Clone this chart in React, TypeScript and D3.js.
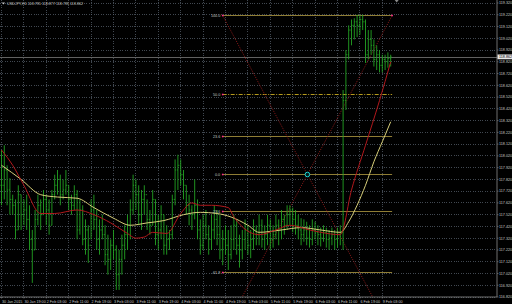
import React from "react";
import * as d3 from "d3";

const W = 512;
const H = 304;

const title = "USDJPY,H1  118.795 118.877 118.795 118.862";
const lastPrice = 118.862;

const priceTicks = [119.32, 119.22, 119.12, 119.02, 118.92, 118.82, 118.72, 118.62, 118.52, 118.42, 118.32, 118.22, 118.12, 118.02, 117.92, 117.82, 117.72, 117.62, 117.52, 117.42, 117.32, 117.22, 117.12, 117.02, 116.92, 116.82];

const timeLabels = ["30 Jan 2015", "30 Jan 19:00", "2 Feb 03:00", "2 Feb 11:00", "2 Feb 19:00", "3 Feb 03:00", "3 Feb 11:00", "3 Feb 19:00", "4 Feb 03:00", "4 Feb 11:00", "4 Feb 19:00", "5 Feb 03:00", "5 Feb 11:00", "5 Feb 19:00", "6 Feb 03:00", "6 Feb 11:00", "6 Feb 19:00", "9 Feb 03:00"];
const timeLabelBars = [0, 8, 16, 24, 32, 40, 48, 56, 64, 72, 80, 88, 96, 104, 112, 120, 128, 136];

const barHigh = [
  118.07, 118.11, 117.94, 117.83, 117.69, 117.65, 117.77, 117.69, 117.65, 117.69,
  117.60, 117.39, 117.56, 117.69, 117.65, 117.73, 117.69, 117.65, 117.73, 117.86,
  117.90, 117.86, 117.82, 117.90, 117.77, 117.69, 117.77, 117.73, 117.65, 117.60,
  117.48, 117.43, 117.65, 117.69, 117.56, 117.48, 117.52, 117.43, 117.35, 117.31,
  117.39, 117.26, 117.22, 117.35, 117.43, 117.52, 117.65, 117.86, 117.82, 117.77,
  117.73, 117.77, 117.65, 117.56, 117.73, 117.65, 117.52, 117.60, 117.52, 117.43,
  117.39, 117.69, 117.99, 118.03, 117.99, 117.90, 117.77, 117.69, 117.60, 117.82,
  117.65, 117.48, 117.52, 117.56, 117.43, 117.52, 117.60, 117.56, 117.52, 117.39,
  117.43, 117.39, 117.43, 117.52, 117.48, 117.35, 117.39, 117.48, 117.43, 117.39,
  117.48, 117.43, 117.52, 117.48, 117.43, 117.52, 117.48, 117.43, 117.52, 117.48,
  117.56, 117.52, 117.60, 117.60, 117.58, 117.56, 117.52, 117.49, 117.48, 117.46,
  117.43, 117.48, 117.46, 117.43, 117.41, 117.43, 117.41, 117.39, 117.41, 117.39,
  117.41, 117.43, 118.58, 118.92, 119.13, 119.18, 119.19, 119.22, 119.22, 119.22,
  119.18, 119.09, 119.09, 119.01, 118.96, 118.92, 118.88, 118.88, 118.90, 118.88,
];
const barLow = [
  117.60, 117.65, 117.60, 117.52, 117.52, 117.31, 117.39, 117.39, 117.43, 117.39,
  117.22, 116.94, 117.22, 117.43, 117.39, 117.52, 117.43, 117.35, 117.43, 117.65,
  117.69, 117.60, 117.65, 117.69, 117.56, 117.52, 117.56, 117.31, 117.35, 117.26,
  117.18, 117.11, 117.31, 117.39, 117.22, 117.18, 117.31, 117.09, 117.01, 117.05,
  117.14, 116.88, 116.88, 117.01, 117.14, 117.22, 117.31, 117.52, 117.56, 117.43,
  117.39, 117.52, 117.39, 117.35, 117.43, 117.26, 117.22, 117.31, 117.18, 117.18,
  117.22, 117.31, 117.60, 117.73, 117.77, 117.65, 117.52, 117.43, 117.39, 117.48,
  117.31, 117.18, 117.22, 117.31, 117.18, 117.22, 117.31, 117.26, 117.14, 117.09,
  117.18, 117.05, 117.14, 117.22, 117.18, 117.07, 117.14, 117.22, 117.18, 117.15,
  117.22, 117.26, 117.26, 117.24, 117.22, 117.26, 117.22, 117.24, 117.31, 117.26,
  117.31, 117.35, 117.39, 117.43, 117.37, 117.35, 117.31, 117.26, 117.29, 117.26,
  117.24, 117.26, 117.31, 117.26, 117.25, 117.29, 117.24, 117.22, 117.26, 117.22,
  117.24, 117.26, 117.22, 118.41, 118.84, 118.96, 119.01, 119.03, 119.05, 119.09,
  118.81, 118.84, 118.88, 118.78, 118.75, 118.73, 118.73, 118.75, 118.77, 118.78,
];
const barClose = [
  117.77, 117.90, 117.73, 117.65, 117.60, 117.39, 117.69, 117.52, 117.56, 117.48,
  117.31, 117.22, 117.48, 117.60, 117.52, 117.65, 117.56, 117.43, 117.69, 117.77,
  117.82, 117.69, 117.73, 117.77, 117.65, 117.60, 117.69, 117.39, 117.56, 117.31,
  117.39, 117.26, 117.56, 117.48, 117.31, 117.39, 117.35, 117.18, 117.14, 117.26,
  117.22, 117.01, 117.14, 117.26, 117.35, 117.43, 117.56, 117.77, 117.69, 117.52,
  117.65, 117.69, 117.48, 117.43, 117.65, 117.35, 117.39, 117.52, 117.26, 117.31,
  117.35, 117.65, 117.90, 117.94, 117.86, 117.77, 117.60, 117.56, 117.52, 117.60,
  117.39, 117.26, 117.43, 117.35, 117.31, 117.39, 117.48, 117.35, 117.22, 117.31,
  117.26, 117.18, 117.31, 117.43, 117.26, 117.22, 117.31, 117.39, 117.26, 117.31,
  117.39, 117.35, 117.43, 117.31, 117.35, 117.43, 117.31, 117.35, 117.43, 117.39,
  117.48, 117.43, 117.52, 117.56, 117.48, 117.43, 117.39, 117.35, 117.39, 117.32,
  117.31, 117.39, 117.37, 117.35, 117.32, 117.37, 117.31, 117.32, 117.35, 117.31,
  117.35, 117.37, 118.49, 118.88, 119.09, 119.13, 119.16, 119.13, 119.18, 119.16,
  118.88, 119.01, 118.96, 118.84, 118.88, 118.79, 118.84, 118.82, 118.85, 118.86,
];

const fastMaBars = [0, 4, 8, 14, 19, 27, 33, 39, 45, 48, 51, 54, 59, 64, 68, 71, 75, 81, 83, 92, 98, 103, 110, 114, 121, 125, 130, 135, 139];
const fastMaValues = [118.07, 117.94, 117.77, 117.53, 117.53, 117.56, 117.52, 117.45, 117.36, 117.32, 117.33, 117.37, 117.36, 117.53, 117.62, 117.60, 117.60, 117.58, 117.50, 117.35, 117.39, 117.43, 117.39, 117.37, 117.35, 117.73, 118.11, 118.49, 118.82];

const slowMaBars = [0, 7, 14, 20, 27, 33, 40, 46, 52, 58, 65, 71, 77, 82, 88, 92, 100, 107, 114, 121, 124, 127, 130, 133, 136, 139];
const slowMaValues = [117.94, 117.82, 117.69, 117.67, 117.66, 117.58, 117.49, 117.43, 117.45, 117.47, 117.52, 117.54, 117.53, 117.50, 117.43, 117.37, 117.39, 117.41, 117.39, 117.37, 117.46, 117.60, 117.77, 117.97, 118.14, 118.31];

const fibRatios = [1, 0.5, 0.236, 0, -0.236, -0.618];
const fibLabels = ["100.0", "50.0", "23.6", "0.0", "-23.6", "-61.8"];
const fibPrice100 = 119.22;
const fibPrice0 = 117.87;
const fibStartBar = 79;
const fibEndBar = 139.5;
const crossBar = 109.25;

export default function App() {
  const plotRight = 497;
  const plotBottom = 297;
  const y = d3.scaleLinear().domain([116.82, 119.32]).range([297, 3]);
  const x = d3.scaleLinear().domain([0, 139]).range([1.5, 390.7]);

  const grid = "#5c6673";
  const txt = "#c8c8c8";
  const barColor = "#22a322";

  const maLine = (bars: number[], vals: number[]) =>
    d3.line<number>().x((_, i) => x(bars[i])).y((v) => y(v)).curve(d3.curveMonotoneX)(vals) || "";

  const fibY = (r: number) => Math.round(y(fibPrice0 + r * (fibPrice100 - fibPrice0))) + 0.5;
  const cx = x(crossBar);
  const cy = fibY(0);
  const ray = (bx: number, by: number) => {
    const dx = cx - bx;
    const dy = cy - by;
    const t = (plotBottom + 20 - by) / dy;
    return { x1: bx, y1: by, x2: bx + dx * t, y2: by + dy * t };
  };
  const r1 = ray(x(fibStartBar), fibY(1));
  const r2 = ray(x(fibEndBar), fibY(1));

  return (
    <svg width={W} height={H} style={{ position: "absolute", left: 0, top: 0, background: "#000" }}
      fontFamily="'Liberation Sans', Arial, sans-serif">
      <defs>
        <clipPath id="plot">
          <rect x={0} y={0} width={plotRight} height={plotBottom} />
        </clipPath>
      </defs>
      <rect x={0} y={0} width={W} height={H} fill="#000" />

      <g stroke={grid} strokeWidth={0.7} strokeDasharray="1 1.4" shapeRendering="crispEdges">
        {priceTicks.map((p) => (
          <line key={"h" + p} x1={0} x2={plotRight} y1={y(p)} y2={y(p)} />
        ))}
        {timeLabelBars.map((b) => (
          <line key={"v" + b} x1={x(b)} x2={x(b)} y1={0} y2={plotBottom} />
        ))}
      </g>

      <line x1={0} x2={plotRight} y1={Math.round(y(lastPrice)) + 0.5} y2={Math.round(y(lastPrice)) + 0.5} stroke="#7a7a7a" strokeWidth={0.8} />

      <g clipPath="url(#plot)">
        {fibRatios.map((r, i) => (
          <line key={"f" + i} x1={x(fibStartBar)} x2={x(fibEndBar)} y1={fibY(r)} y2={fibY(r)}
            stroke={r === 0.5 ? "#b59a1e" : "#8f7d35"} strokeWidth={1}
            strokeDasharray={r === 0.5 ? "4 1.5 1 1.5" : undefined} />
        ))}
        <line {...r1} stroke="#8a1a1a" strokeWidth={0.9} strokeDasharray="1.2 1.2" />
        <line {...r2} stroke="#8a1a1a" strokeWidth={0.9} strokeDasharray="1.2 1.2" />

        <g stroke={barColor} strokeWidth={0.9}>
          {barHigh.map((h, i) => {
            const bx = x(i);
            const open = i === 0 ? barClose[0] : barClose[i - 1];
            return (
              <g key={"b" + i}>
                <line x1={bx} x2={bx} y1={y(h)} y2={y(barLow[i])} />
                <line x1={bx - 1} x2={bx} y1={y(open)} y2={y(open)} />
                <line x1={bx} x2={bx + 1} y1={y(barClose[i])} y2={y(barClose[i])} />
              </g>
            );
          })}
        </g>

        <path d={maLine(slowMaBars, slowMaValues)} fill="none" stroke="#d8cf7a" strokeWidth={1} />
        <path d={maLine(fastMaBars, fastMaValues)} fill="none" stroke="#b0181c" strokeWidth={1} />

        <circle cx={cx} cy={cy} r={2.3} fill="#002020" stroke="#19d4d4" strokeWidth={1} />

        {fibRatios.map((r, i) => (
          <rect key={"m" + i} x={x(fibStartBar) - 0.8} y={fibY(r) - 0.8} width={1.6} height={1.6} fill="#ff2a8a" />
        ))}
        <rect x={x(fibEndBar) - 0.8} y={fibY(1) - 0.8} width={1.6} height={1.6} fill="#ff2a8a" />
      </g>

      {fibRatios.map((r, i) => (
        <text key={"fl" + i} x={x(fibStartBar) - 2.5} y={fibY(r) + 1.3} fontSize={3.7} fill={txt} textAnchor="end">
          {fibLabels[i]}
        </text>
      ))}

      <line x1={plotRight} x2={plotRight} y1={0} y2={plotBottom} stroke="#8a8a8a" strokeWidth={0.8} />
      <line x1={0} x2={plotRight} y1={plotBottom} y2={plotBottom} stroke="#8a8a8a" strokeWidth={0.8} />

      {priceTicks.map((p) => (
        <g key={"pl" + p}>
          <line x1={plotRight} x2={plotRight + 1.5} y1={y(p)} y2={y(p)} stroke="#8a8a8a" strokeWidth={0.6} />
          <text x={499} y={y(p) + 1.3} fontSize={3.7} fill={txt}>{p.toFixed(3)}</text>
        </g>
      ))}
      <rect x={497.5} y={y(lastPrice) - 2.4} width={14.5} height={4.8} fill="#e8e8e8" />
      <text x={499} y={y(lastPrice) + 1.3} fontSize={3.7} fill="#000">{lastPrice.toFixed(3)}</text>

      {timeLabelBars.map((b, i) => (
        <g key={"tl" + b}>
          <line x1={x(b)} x2={x(b)} y1={plotBottom} y2={plotBottom + 1.5} stroke="#8a8a8a" strokeWidth={0.6} />
          <text x={x(b) + 0.5} y={302.5} fontSize={3.7} fill={txt}>{timeLabels[i]}</text>
        </g>
      ))}

      <path d="M2,2.5 L5,2.5 L3.5,4.5 Z" fill={txt} />
      <text x={7} y={4.8} fontSize={3.7} fill={txt}>{title}</text>

      <path d={`M${x(139) + 4},0 L${x(139) + 8},0 L${x(139) + 6},2.5 Z`} fill="#8a8a8a" />
    </svg>
  );
}
